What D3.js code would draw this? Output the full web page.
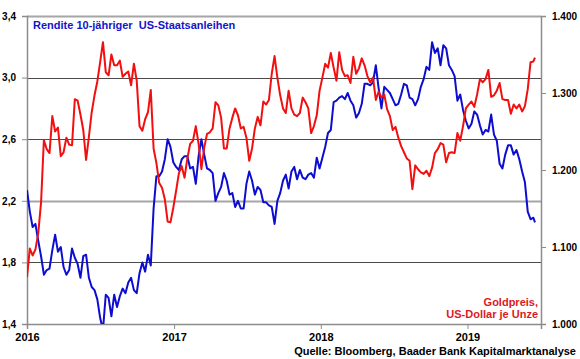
<!DOCTYPE html>
<html>
<head>
<meta charset="utf-8">
<script src="https://cdn.jsdelivr.net/npm/d3@7"></script>
<style>
  body { margin: 0; background: white; }
  svg text { font-family: "Liberation Sans", Arial, sans-serif; font-weight: bold; }
</style>
</head>
<body>
<div id="chart"></div>
<script>
// Weekly values (Fridays), 2016-01-01 .. 2019-06-14, plus last day 2019-06-18
const lastDay = new Date(2019, 5, 18);

// Rendite 10-jähriger US-Staatsanleihen, in %
const yield2016 = [2.27, 2.13, 2.03, 2.05, 1.94, 1.84, 1.72, 1.75, 1.76, 1.88, 1.98, 1.87, 1.90,
  1.77, 1.72, 1.75, 1.89, 1.83, 1.79, 1.70, 1.84, 1.85, 1.70, 1.64, 1.62, 1.56, 1.44, 1.36,
  1.59, 1.57, 1.45, 1.59, 1.51, 1.58, 1.63, 1.60, 1.67, 1.70, 1.62, 1.60, 1.73, 1.80, 1.74,
  1.85, 1.78, 2.15, 2.36, 2.36, 2.39, 2.47, 2.60, 2.55, 2.45];
const yield2017 = [2.42, 2.40, 2.47, 2.49, 2.49, 2.41, 2.42, 2.31, 2.49, 2.60, 2.50, 2.41, 2.40,
  2.38, 2.20, 2.25, 2.29, 2.38, 2.33, 2.24, 2.25, 2.16, 2.20, 2.15, 2.15, 2.31, 2.39, 2.33,
  2.24, 2.29, 2.27, 2.19, 2.19, 2.17, 2.16, 2.05, 2.20, 2.25, 2.33, 2.37, 2.28, 2.39, 2.42,
  2.34, 2.40, 2.35, 2.34, 2.37, 2.38, 2.35, 2.48, 2.41];
const yield2018 = [2.48, 2.55, 2.64, 2.66, 2.84, 2.85, 2.87, 2.88, 2.86, 2.90, 2.85, 2.82, 2.74,
  2.77, 2.83, 2.96, 2.96, 2.95, 2.97, 3.08, 2.93, 2.80, 2.94, 2.92, 2.90, 2.86, 2.82, 2.83,
  2.89, 2.96, 2.95, 2.87, 2.86, 2.82, 2.86, 2.94, 2.99, 3.07, 3.05, 3.23, 3.16, 3.19, 3.08,
  3.21, 3.19, 3.08, 3.05, 3.01, 2.85, 2.89, 2.79, 2.72];
const yield2019 = [2.67, 2.70, 2.78, 2.76, 2.69, 2.63, 2.66, 2.65, 2.76, 2.63, 2.59, 2.44, 2.41,
  2.50, 2.56, 2.56, 2.50, 2.53, 2.47, 2.39, 2.32, 2.13, 2.08, 2.09, 2.06];

// Goldpreis, US-Dollar je Unze
const gold2016 = [1061, 1098, 1089, 1097, 1118, 1158, 1239, 1227, 1222, 1270, 1250, 1255, 1218,
  1223, 1242, 1233, 1232, 1292, 1290, 1272, 1252, 1213, 1243, 1275, 1297, 1315, 1340, 1366,
  1327, 1323, 1350, 1336, 1336, 1342, 1321, 1325, 1328, 1310, 1338, 1316, 1257, 1251, 1266,
  1275, 1304, 1228, 1209, 1183, 1177, 1162, 1133, 1132, 1151];
const gold2017 = [1173, 1196, 1205, 1190, 1215, 1234, 1238, 1257, 1234, 1201, 1229, 1247, 1249,
  1254, 1288, 1284, 1268, 1228, 1228, 1254, 1268, 1280, 1271, 1254, 1256, 1242, 1212, 1228,
  1254, 1269, 1258, 1289, 1285, 1291, 1325, 1348, 1320, 1297, 1280, 1274, 1303, 1280, 1272,
  1270, 1274, 1294, 1288, 1280, 1248, 1257, 1271, 1303];
const gold2018 = [1320, 1338, 1333, 1352, 1333, 1316, 1353, 1330, 1322, 1323, 1313, 1347, 1325,
  1332, 1345, 1336, 1322, 1314, 1320, 1291, 1302, 1294, 1298, 1279, 1270, 1252, 1256, 1242,
  1231, 1223, 1215, 1212, 1175, 1206, 1201, 1197, 1195, 1199, 1192, 1203, 1222, 1227, 1235,
  1233, 1210, 1222, 1223, 1222, 1248, 1238, 1257, 1280];
const gold2019 = [1285, 1289, 1282, 1298, 1318, 1314, 1318, 1330, 1295, 1297, 1303, 1313, 1292,
  1291, 1291, 1273, 1285, 1280, 1285, 1276, 1283, 1305, 1340, 1341, 1346];

const leftTicks  = [1.4, 1.8, 2.2, 2.6, 3.0, 3.4];
const rightTicks = [1000, 1100, 1200, 1300, 1400];

const titleYield = "Rendite 10-jähriger  US-Staatsanleihen";
const labelGold  = ["Goldpreis,", "US-Dollar je Unze"];
const source     = "Quelle: Bloomberg, Baader Bank Kapitalmarktanalyse";

// layout
const width = 580, height = 359;
const plot = { left: 27, right: 541, top: 16, bottom: 324 };

const dates = d3.timeFriday.range(new Date(2016, 0, 1), new Date(2019, 5, 15));
dates.push(lastDay);
const yields = [].concat(yield2016, yield2017, yield2018, yield2019);
const golds  = [].concat(gold2016, gold2017, gold2018, gold2019);
const rows = dates.map((d, i) => ({ date: d, y: yields[i], g: golds[i] }));

const svg = d3.select("#chart").append("svg")
  .attr("width", width)
  .attr("height", height);

const x = d3.scaleTime()
  .domain([new Date(2016, 0, 1), new Date(2019, 6, 3)])
  .range([plot.left, plot.right]);
const yL = d3.scaleLinear().domain([1.4, 3.4]).range([plot.bottom, plot.top]);
const yR = d3.scaleLinear().domain([1000, 1400]).range([plot.bottom, plot.top]);

// grid lines
svg.append("g")
  .selectAll("line")
  .data(leftTicks.filter(d => d > 1.4))
  .enter().append("line")
    .attr("x1", plot.left)
    .attr("x2", plot.right)
    .attr("y1", d => Math.round(yL(d)) + 0.5)
    .attr("y2", d => Math.round(yL(d)) + 0.5)
    .attr("stroke", d => (d === 2.2 || d === 3.4) ? "#a6a6a6" : "#4a4a4a")
    .attr("stroke-width", d => (d === 2.2 || d === 3.4) ? 2 : 1);

// axes
const fmtLeft = d => d3.format(".1f")(d).replace(".", ",");
const fmtRight = d => d3.format(",")(d).replace(",", ".");

const axL = svg.append("g")
  .attr("transform", "translate(" + plot.left + ",0)")
  .call(d3.axisLeft(yL).tickValues(leftTicks).tickFormat(fmtLeft).tickSize(5).tickPadding(6));
const axR = svg.append("g")
  .attr("transform", "translate(" + plot.right + ",0)")
  .call(d3.axisRight(yR).tickValues(rightTicks).tickFormat(fmtRight).tickSize(5).tickPadding(6));
const axB = svg.append("g")
  .attr("transform", "translate(0," + plot.bottom + ")")
  .call(d3.axisBottom(x).ticks(d3.timeYear).tickFormat(d3.timeFormat("%Y")).tickSize(5).tickPadding(4));

[axL, axR].forEach(a => a.selectAll("text").style("font-size", "10px").attr("fill", "#000"));
axB.selectAll("text").style("font-size", "11px").attr("fill", "#000");
[axL, axR, axB].forEach(a => {
  a.select(".domain").attr("stroke", "#8c8c8c").attr("stroke-width", 1.5);
  a.selectAll(".tick line").attr("stroke", "#8c8c8c");
});

// clip
svg.append("clipPath").attr("id", "clip")
  .append("rect")
    .attr("x", plot.left).attr("y", plot.top)
    .attr("width", plot.right - plot.left).attr("height", plot.bottom - plot.top);

const lineYield = d3.line().x(d => x(d.date)).y(d => yL(d.y));
const lineGold  = d3.line().x(d => x(d.date)).y(d => yR(d.g));

svg.append("path")
  .datum(rows)
  .attr("clip-path", "url(#clip)")
  .attr("fill", "none")
  .attr("stroke", "#0d0dcf")
  .attr("stroke-width", 2)
  .attr("stroke-linejoin", "round")
  .attr("d", lineYield);

svg.append("path")
  .datum(rows)
  .attr("clip-path", "url(#clip)")
  .attr("fill", "none")
  .attr("stroke", "#f20f0f")
  .attr("stroke-width", 2)
  .attr("stroke-linejoin", "round")
  .attr("d", lineGold);

// labels
svg.append("text")
  .attr("x", 33).attr("y", 29)
  .attr("fill", "#1414c8")
  .style("font-size", "11px")
  .style("white-space", "pre")
  .text(titleYield);

svg.append("g").selectAll("text")
  .data(labelGold)
  .enter().append("text")
    .attr("x", 538)
    .attr("y", (d, i) => 306 + i * 12)
    .attr("text-anchor", "end")
    .attr("fill", "#dc1a22")
    .style("font-size", "11px")
    .text(d => d);

svg.append("text")
  .attr("x", 576).attr("y", 355)
  .attr("text-anchor", "end")
  .attr("fill", "#000")
  .style("font-size", "11px")
  .text(source);
</script>
</body>
</html>
